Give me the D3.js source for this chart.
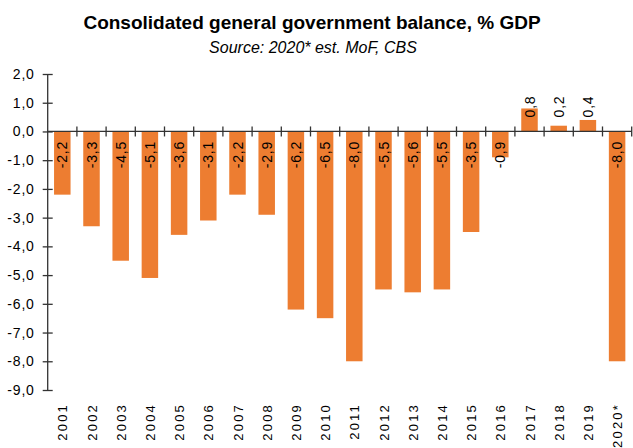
<!DOCTYPE html>
<html>
<head>
<meta charset="utf-8">
<script src="https://cdn.jsdelivr.net/npm/d3@7"></script>
<style>
  html, body { margin: 0; padding: 0; background: #fff; }
  svg { display: block; }
</style>
</head>
<body>
<svg id="chart" width="633" height="448"></svg>
<script>
const years = ["2001","2002","2003","2004","2005","2006","2007","2008","2009","2010",
               "2011","2012","2013","2014","2015","2016","2017","2018","2019","2020*"];
const balance = [-2.2,-3.3,-4.5,-5.1,-3.6,-3.1,-2.2,-2.9,-6.2,-6.5,
                 -8.0,-5.5,-5.6,-5.5,-3.5,-0.9,0.8,0.2,0.4,-8.0];
const yTicks = [2,1,0,-1,-2,-3,-4,-5,-6,-7,-8,-9];
const titleText = "Consolidated general government balance, % GDP";
const subtitleText = "Source: 2020* est. MoF, CBS";

const fmt = v => d3.format(".1f")(v).replace(".", ",").replace("−", "-");

const svg = d3.select("#chart");
const margin = {left: 47.7, right: 1.3, top: 74, bottom: 58};
const W = 633, H = 448;

const x = d3.scaleBand().domain(years)
  .range([margin.left, W - margin.right])
  .paddingInner(0.435).paddingOuter(0.2175);
const y = d3.scaleLinear().domain([-9, 2]).range([H - margin.bottom, margin.top]);

const axisColor = "#333";
const barColor = "#ED7D31";
const fontMain = "'Liberation Sans', Arial, sans-serif";
const fontNarrow = "'Liberation Sans Narrow', 'Arial Narrow', 'Liberation Sans', sans-serif";

// Title
svg.append("text")
  .attr("x", 312).attr("y", 28.5)
  .attr("text-anchor", "middle")
  .style("font-family", fontNarrow)
  .style("font-weight", "bold")
  .style("font-size", "19px")
  .attr("fill", "#000")
  .text(titleText);

svg.append("text")
  .attr("x", 313).attr("y", 52.5)
  .attr("text-anchor", "middle")
  .style("font-family", fontNarrow)
  .style("font-style", "italic")
  .style("font-size", "16px")
  .attr("fill", "#000")
  .text(subtitleText);

// Bars
svg.append("g").selectAll("rect")
  .data(balance)
  .join("rect")
  .attr("x", (d, i) => x(years[i]))
  .attr("width", x.bandwidth())
  .attr("y", d => y(Math.max(0, d)))
  .attr("height", d => Math.abs(y(d) - y(0)))
  .attr("fill", barColor);

// Y axis
const yAxis = d3.axisLeft(y).tickValues(yTicks).tickFormat(fmt)
  .tickSizeInner(0).tickSizeOuter(0).tickPadding(13);
const gy = svg.append("g")
  .attr("transform", `translate(${margin.left},0)`)
  .call(yAxis);
gy.select(".domain").attr("stroke", axisColor).attr("stroke-width", 1.3)
  .attr("d", `M0,${y(2)}V${y(-9)}`);
gy.selectAll(".tick line").attr("x1", -5).attr("x2", 5)
  .attr("stroke", axisColor).attr("stroke-width", 1.3);
gy.selectAll(".tick text")
  .style("font-family", fontMain).style("font-size", "14px")
  .style("letter-spacing", "0.8px")
  .attr("fill", "#000");

// X axis at zero line
const boundaries = d3.range(years.length + 1).map(i => margin.left + i * x.step());
const gx = svg.append("g");
gx.append("line")
  .attr("x1", margin.left).attr("x2", W - margin.right)
  .attr("y1", y(0)).attr("y2", y(0))
  .attr("stroke", axisColor).attr("stroke-width", 1.3);
gx.selectAll("line.tk")
  .data(boundaries.slice(1))
  .join("line").attr("class", "tk")
  .attr("x1", d => d).attr("x2", d => d)
  .attr("y1", y(0) - 5).attr("y2", y(0) + 5)
  .attr("stroke", axisColor).attr("stroke-width", 1.3);

// Year labels
svg.append("g").selectAll("text")
  .data(years)
  .join("text")
  .attr("transform", d => `translate(${x(d) + x.bandwidth() / 2 + 0.5},403) rotate(-90)`)
  .attr("text-anchor", "end")
  .attr("dominant-baseline", "central")
  .style("font-family", fontMain).style("font-size", "13px")
  .style("letter-spacing", "2.2px")
  .attr("fill", "#000")
  .text(d => d);

// Value labels
svg.append("g").selectAll("text")
  .data(balance)
  .join("text")
  .attr("transform", (d, i) => {
    const cx = x(years[i]) + x.bandwidth() / 2;
    const yy = d < 0 ? y(0) + 9.5 : y(0) - 14;
    return `translate(${cx},${yy}) rotate(-90)`;
  })
  .attr("text-anchor", d => d < 0 ? "end" : "start")
  .attr("dominant-baseline", "central")
  .style("font-family", fontMain).style("font-size", "14px")
  .style("letter-spacing", "0.8px")
  .attr("fill", "#000")
  .text(d => fmt(d));
</script>
</body>
</html>
